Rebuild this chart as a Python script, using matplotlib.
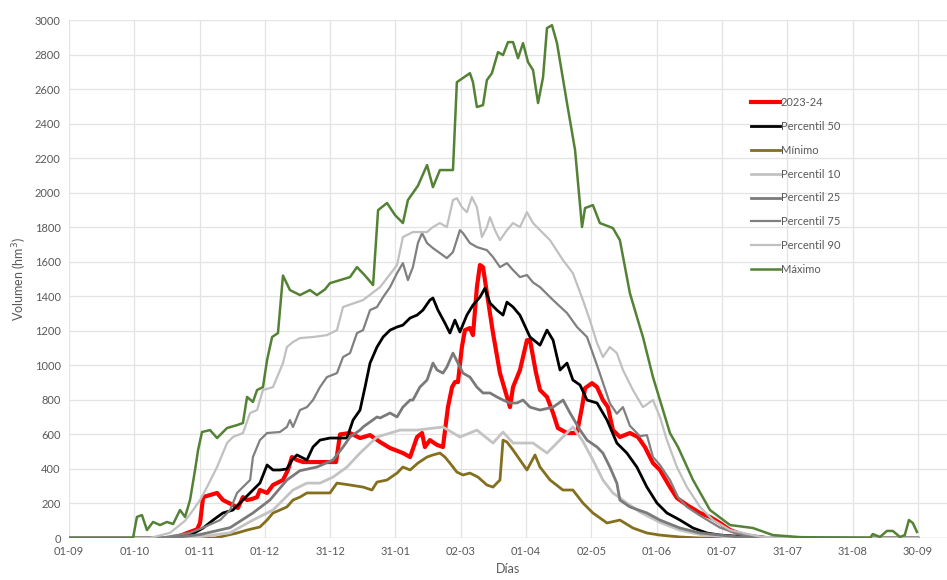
import matplotlib
matplotlib.use("Agg")
from matplotlib import pyplot as plt

plt.rcParams['font.family'] = ['Lato', 'DejaVu Sans']

# eje x: dias desde el 01-09 (30 dias entre etiquetas)
tick_labels = ['01-09', '01-10', '01-11', '01-12', '31-12', '31-01', '02-03',
               '01-04', '02-05', '01-06', '01-07', '31-07', '31-08', '30-09']
yticks = list(range(0, 3001, 200))

# 2023-24
d_2324 = [48.7, 54.2, 58.8, 60.2, 61.6, 64.8, 68, 70.7, 75.3, 77.6, 79.9, 81.8, 84.1, 86.4, 87.7, 91, 93.7, 98.3,
          100.6, 102.4, 104.7, 107.5, 112.1, 118.5, 122.7, 124.5, 129.1, 133.7, 138.3, 142.9, 147.5, 153.4, 156.7,
          159.9, 162.2, 163.5, 165.8, 169.1, 171.8, 174.1, 176, 177.3, 178.7, 180.5, 181.9, 184.2, 185.6, 187.4,
          188.8, 190.2, 192, 194.8, 198, 202.6, 204, 207.2, 210.4, 211.8, 214.5, 216.4, 219.6, 222.4, 224.6, 228.8,
          233.4, 235.7, 237.1, 240.3, 242.6, 245.3, 247.6, 249.9, 253.1, 257.7, 261.4, 264.6, 268.3, 271.5, 276.1,
          279.3, 283.9, 289.9, 294.5, 299.1, 303.7, 310.6, 318.4]
v_2324 = [0, 29, 50, 87, 237, 249, 261, 220, 191, 174, 237, 220, 226, 237, 278, 261, 307, 336,
          394, 469, 452, 440, 440, 440, 440, 600, 608, 579, 596, 556, 521, 492, 469,
          585, 608, 527, 567, 539, 527, 758, 874, 903, 903, 1106, 1204, 1216, 1175, 1453,
          1581, 1569, 1418, 1187, 955, 758, 874, 973, 1146, 1146, 960, 857, 817, 724, 637, 608,
          608, 758, 868, 897, 874, 799, 758, 625, 585, 608, 585, 527, 434, 394, 295,
          232, 191, 145, 122, 87, 46, 15, 3]

# Percentil 50
d_p50 = [0, 44.1, 54.2, 61.6, 66.2, 70.7, 75.3, 79.9, 84.5, 87.7, 91, 93.7, 96.9, 100.1, 102.4, 104.7, 109.3, 112.1,
         115.3, 119.9, 127.7, 130.5, 133.7, 136, 138.3, 141.5, 144.3, 147.5, 150.7, 153.4, 156.7, 159.9, 162.6,
         165.8, 167.2, 169.5, 172.7, 175, 177.3, 179.6, 182.8, 185.6, 188.8, 191.1, 193.4, 196.6, 199.4, 201.2,
         204, 207.2, 211.8, 216.4, 219.6, 222.4, 225.6, 228.8, 231.5, 234.8, 238, 242.6, 247.2, 251.7, 256.3,
         260.9, 265.5, 270.1, 274.7, 280.7, 286.7, 293.1, 299.1, 317.4, 340, 390]
v_p50 = [0, 0, 5, 58, 104, 145, 162, 220, 278, 318, 423, 394, 394, 400, 452, 481, 452, 527,
         567, 579, 579, 683, 741, 874, 1013, 1106, 1164, 1204, 1222, 1233, 1274, 1291, 1320,
         1378, 1390, 1320, 1245, 1187, 1262, 1193, 1291, 1349, 1395, 1447, 1361, 1320, 1291, 1366,
         1338, 1290, 1164, 1117, 1204, 1146, 973, 1013, 915, 886, 799, 782, 683, 550, 492,
         411, 295, 203, 145, 104, 58, 29, 17, 2, 0, 0]

# Minimo
d_min = [0, 67.1, 77.2, 81.8, 87.7, 91, 93.7, 96.9, 100.1, 102.9, 106.1, 109.3, 119.9, 123.1, 129.1, 135.1, 139.2,
         141.5, 146.1, 150.7, 153.4, 156.7, 160.3, 164.5, 167.2, 170.4, 172.7, 175, 178.2, 181, 184.2, 187.9, 192,
         194.8, 198, 199.4, 201.2, 204, 207.2, 210.4, 214.1, 216.4, 221, 226.9, 231.5, 236.1, 240.7, 247.2, 253.1,
         259.1, 265.5, 271.5, 280.7, 289.9, 390]
v_min = [0, 0, 29, 46, 64, 104, 145, 162, 180, 220, 237, 261, 261, 318, 307, 295, 278,
         324, 336, 376, 411, 394, 434, 469, 481, 492, 469, 434, 382, 365, 376, 353, 307,
         295, 336, 567, 556, 510, 452, 394, 481, 411, 336, 278, 278, 203, 145, 87, 104,
         58, 29, 17, 6, 0, 0]

# Percentil 10
d_p10 = [0, 55.6, 74, 84.5, 93.7, 102.9, 109.3, 115.3, 121.3, 127.7, 133.7, 141.5, 152.1, 159.9, 171.8, 179.6, 187.4,
         194.8, 199.4, 204, 213.2, 219.6, 226.9, 231.5, 236.1, 240.7, 245.3, 249.9, 256.3, 262.3, 271.5, 280.7,
         289.9, 303.7, 330, 390]
v_p10 = [0, 0, 30, 104, 162, 278, 318, 318, 353, 411, 492, 585, 625, 625, 643, 585, 625,
         550, 614, 550, 550, 492, 585, 643, 560, 452, 336, 261, 203, 150, 90, 45,
         20, 5, 0, 0]

# Percentil 25
d_p25 = [0, 46.4, 60.2, 74, 84.5, 92.3, 100.1, 106.1, 113.9, 121.3, 125.9, 129.1, 133.7, 135.1, 141.5, 142.9, 147.5,
         150.7, 153.4, 156.7, 158, 161.2, 164.5, 167.2, 169.1, 171.8, 173.6, 176.4, 178.7, 181, 184.2, 187.4, 190.2,
         193.4, 196.6, 199.4, 202.6, 205.8, 208.6, 211.8, 216.4, 222.4, 227, 230.2, 234.8, 238, 242.6, 245.3, 248.5,
         251.7, 253.1, 257.7, 265.5, 271.5, 280.7, 289.9, 308.3, 340, 390]
v_p25 = [0, 0, 20, 60, 145, 220, 336, 390, 411, 452, 527, 585, 625, 643, 701, 695, 724,
         701, 758, 799, 799, 874, 915, 1013, 973, 955, 990, 1071, 1013, 955, 932, 874, 840,
         840, 817, 799, 782, 782, 799, 758, 741, 758, 799, 724, 625, 567, 527, 492, 411,
         318, 220, 180, 145, 104, 58, 29, 5, 0, 0]

# Percentil 75
d_p75 = [0, 41.8, 55.6, 61.6, 69.4, 74, 77.2, 79.9, 83.2, 84.5, 87.7, 91, 96.9, 100.1, 101.5, 102.9, 106.1, 109.3,
         112.1, 115.3, 118.5, 123.1, 125.9, 129.1, 132.3, 135.1, 138.3, 141.5, 144.3, 147.5, 150.7, 153.4, 155.7,
         158, 160.3, 162.2, 164.5, 167.2, 170.4, 173.6, 176.4, 179.6, 181, 184.2, 187.4, 192, 194.8, 198, 201.2,
         204, 207.2, 210.4, 213.2, 216.4, 222.4, 228.8, 233.4, 238, 242.6, 245.3, 248.5, 251.7, 254.5, 257.7,
         262.3, 265.5, 268.3, 271.5, 276.1, 279.8, 283.9, 289.9, 299.1, 308.3, 322, 345, 390]
v_p75 = [0, 0, 30, 60, 104, 162, 261, 295, 336, 469, 567, 608, 614, 643, 683, 643, 741, 758,
         799, 874, 932, 955, 1048, 1071, 1187, 1204, 1320, 1338, 1395, 1453, 1534, 1592, 1494,
         1569, 1708, 1766, 1708, 1679, 1650, 1621, 1656, 1783, 1766, 1708, 1685, 1667, 1627, 1569, 1592,
         1552, 1511, 1523, 1480, 1453, 1378, 1303, 1222, 1164, 1000, 900, 780, 720, 758, 650,
         590, 596, 469, 423, 336, 237, 180, 130, 60, 20, 3, 0, 0]

# Percentil 90
d_p90 = [0, 37.2, 46.4, 53.3, 57, 60.2, 63.4, 68, 72.6, 75.3, 79.9, 83.2, 86.4, 89.1, 93.7, 98.3, 100.1, 102.9,
         106.1, 112.1, 118.5, 123.1, 125.9, 135.1, 142.9, 150.7, 153.4, 158, 164.5, 167.2, 170.4, 173.6, 176.4,
         178.2, 180.5, 182.8, 185.1, 187.4, 189.7, 192, 193.4, 195.7, 198, 201.2, 204, 207.2, 210.4, 213.2, 216.4,
         221, 226.9, 231.5, 236.1, 239.3, 242.6, 245.3, 248.5, 251.7, 254.5, 259.1, 263.7, 268.3, 271.5, 274.7,
         279.3, 283.9, 289.9, 295.9, 303.7, 317.4, 331.2, 390]
v_p90 = [0, 0, 30, 100, 162, 220, 295, 411, 550, 585, 608, 724, 741, 857, 874, 1013, 1106, 1135,
         1158, 1164, 1175, 1204, 1338, 1378, 1453, 1580, 1743, 1772, 1772, 1801, 1824, 1801, 1957,
         1968, 1916, 1887, 1974, 1916, 1743, 1801, 1858, 1783, 1725, 1783, 1824, 1801, 1887, 1824, 1783,
         1725, 1610, 1534, 1378, 1262, 1129, 1048, 1106, 1071, 973, 857, 758, 799, 701, 567,
         411, 295, 180, 104, 46, 8, 0, 0]

# Maximo
d_max = [0, 29.4, 31.2, 33.5, 35.8, 38.6, 41.8, 45, 47.8, 51, 53.3, 55.6, 57.9, 59.3, 61.1, 64.8, 68, 72.6, 77.2,
         79.9, 81.8, 84.5, 86.4, 89.1, 91, 93.3, 96, 98.3, 101.5, 106.1, 110.7, 113.9, 117.6, 119.9, 129.1, 132.3,
         136, 139.7, 142, 146.1, 149.8, 153.4, 155.7, 160.3, 164.5, 167.2, 170.4, 176.4, 178.2, 184.2, 185.6,
         187.4, 190.2, 192, 194.3, 197.1, 199.4, 201.7, 204, 206.3, 208.6, 210.9, 213.2, 215.5, 217.8, 219.6,
         221.9, 224.2, 228.8, 232.5, 235.7, 237.1, 240.7, 243.9, 249.9, 253.1, 257.7, 262.3, 263.7, 268.3, 276.1,
         279.8, 286.7, 294.5, 303.7, 314.2, 323.4, 335.8, 368, 369.3, 372.6, 375.8, 378.5, 381.8, 384, 385.9,
         387.7, 389.6]
v_max = [0, 0, 122, 133, 46, 93, 75, 93, 81, 162, 122, 220, 394, 510, 614, 625, 579, 637, 654,
         666, 817, 788, 857, 874, 1031, 1164, 1187, 1520, 1436, 1407, 1436, 1407, 1440, 1476, 1511, 1569,
         1520, 1465, 1899, 1940, 1870, 1824, 1957, 2040, 2160, 2032, 2131, 2131, 2640, 2692, 2640,
         2496, 2507, 2652, 2692, 2814, 2797, 2872, 2872, 2779, 2866, 2756, 2710, 2519, 2669, 2953,
         2970, 2866, 2519, 2247, 1801, 1911, 1928, 1824, 1795, 1725, 1418, 1222, 1164, 932, 608,
         527, 336, 162, 75, 58, 17, 5, 0, 23, 6, 41, 41, 6, 17, 104,
         87, 35]

fig = plt.figure(figsize=(9.47, 5.8), dpi=100)
ax = fig.add_axes([0.0729, 0.0724, 0.9271, 0.8931])

ax.plot(d_2324, v_2324, color='#FF0000', lw=3.0, label='2023-24')
ax.plot(d_p50, v_p50, color='#000000', lw=2.0, label='Percentil 50')
ax.plot(d_min, v_min, color='#846F1E', lw=2.0, label='Mínimo')
ax.plot(d_p10, v_p10, color='#C3C3C3', lw=2.0, label='Percentil 10')
ax.plot(d_p25, v_p25, color='#7A7A7A', lw=2.0, label='Percentil 25')
ax.plot(d_p75, v_p75, color='#808080', lw=1.6, label='Percentil 75')
ax.plot(d_p90, v_p90, color='#C0C0C0', lw=1.6, label='Percentil 90')
ax.plot(d_max, v_max, color='#548235', lw=1.8, label='Máximo')

ax.set_xlim(0, 403.4)
ax.set_ylim(0, 3000)
ax.set_xticks(range(0, 391, 30))
ax.set_xticklabels(tick_labels)
ax.set_yticks(yticks)
ax.tick_params(length=0, labelsize=8, labelcolor='#595959', pad=6)
ax.grid(True, color='#E3E3E3', lw=0.9)
ax.set_axisbelow(True)
for s in ax.spines.values():
    s.set_visible(False)
ax.axhline(0, color='#D9D9D9', lw=1.0, zorder=0)

ax.set_xlabel('Días', fontsize=9, color='#595959', labelpad=4)
ax.set_ylabel('Volumen (hm$^3$)', fontsize=9, color='#595959', labelpad=4)

leg = ax.legend(loc='upper left', bbox_to_anchor=(0.765, 0.87), frameon=False,
                fontsize=8, labelspacing=1.15, handlelength=2.6, handletextpad=0.1)
for t in leg.get_texts():
    t.set_color('#595959')

fig.savefig('out.png', dpi=100)
